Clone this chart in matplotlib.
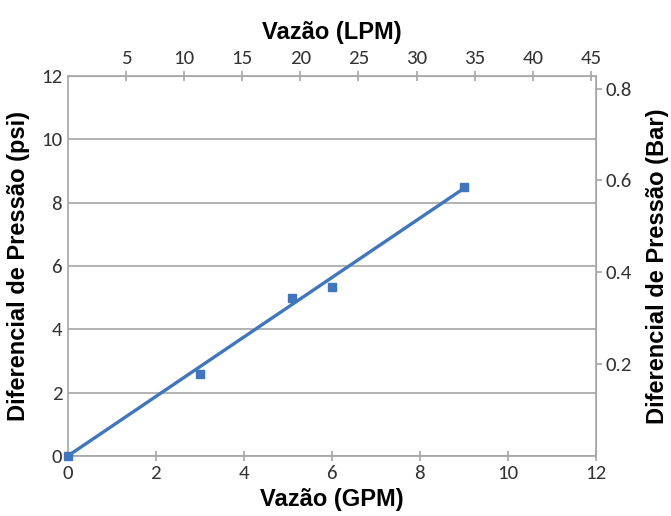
import matplotlib
matplotlib.use("Agg")
import matplotlib.pyplot as plt
import numpy as np

# measured points (GPM, psi)
FLOW_GPM = [0.0, 3.0, 5.1, 6.0, 9.0]
DP_PSI = [0.0, 2.6, 5.0, 5.35, 8.5]

# trend line endpoints
TREND_X = [0.0, 9.0]
TREND_Y = [0.0, 8.45]

GPM_TICKS = [0, 2, 4, 6, 8, 10, 12]
PSI_TICKS = [0, 2, 4, 6, 8, 10, 12]
LPM_TICKS = [5, 10, 15, 20, 25, 30, 35, 40, 45]
BAR_TICKS = [0.2, 0.4, 0.6, 0.8]

GPM_TO_LPM = 3.785
PSI_TO_BAR = 0.0689476

BLUE = "#3f76c0"
GRID = "#a6a6a6"
TICK_COLOR = "#333333"
TITLE_FONT = ["Liberation Sans Narrow", "Liberation Sans", "DejaVu Sans"]
TICK_FONT = ["Carlito", "Open Sans", "DejaVu Sans"]
TICK_SIZE = 15
TITLE_SIZE = 17

fig = plt.figure(figsize=(6.71, 5.16), dpi=100)
ax = fig.add_axes([0.101, 0.1163, 0.787, 0.7364])

ax.plot(TREND_X, TREND_Y, "-", color=BLUE, linewidth=2.4, zorder=3)
ax.plot(FLOW_GPM, DP_PSI, "s", color=BLUE, markersize=6, zorder=4, clip_on=False)

ax.set_xlim(0, 12)
ax.set_ylim(0, 12)
ax.set_xticks(GPM_TICKS)
ax.set_yticks(PSI_TICKS)
ax.grid(True, axis="y", color=GRID, linewidth=1.2)
ax.set_axisbelow(True)
for s in ax.spines.values():
    s.set_color(GRID)
    s.set_linewidth(1.2)

ax.tick_params(axis="x", direction="inout", length=7, color=GRID, width=1.2,
               labelsize=TICK_SIZE, labelcolor=TICK_COLOR, pad=3)
ax.tick_params(axis="y", direction="out", length=0, labelsize=TICK_SIZE,
               labelcolor=TICK_COLOR, pad=4)
for lab in ax.get_xticklabels() + ax.get_yticklabels():
    lab.set_family(TICK_FONT)

ax.set_xlabel("Vazão (GPM)", fontsize=TITLE_SIZE, fontweight="bold", family=TITLE_FONT, labelpad=4)
ax.set_ylabel("Diferencial de Pressão (psi)", fontsize=TITLE_SIZE, fontweight="bold",
              family=TITLE_FONT, labelpad=8)

top = ax.secondary_xaxis("top", functions=(lambda x: x * GPM_TO_LPM, lambda x: x / GPM_TO_LPM))
top.set_xticks(LPM_TICKS)
top.tick_params(direction="inout", length=7, color=GRID, width=1.2,
                labelsize=TICK_SIZE, labelcolor=TICK_COLOR, pad=3)
for lab in top.get_xticklabels():
    lab.set_family(TICK_FONT)
top.spines["top"].set_color(GRID)
top.set_xlabel("Vazão (LPM)", fontsize=TITLE_SIZE, fontweight="bold", family=TITLE_FONT, labelpad=8)

right = ax.secondary_yaxis("right", functions=(lambda y: y * PSI_TO_BAR, lambda y: y / PSI_TO_BAR))
right.set_yticks(BAR_TICKS)
right.set_yticklabels([f"{v:.1f}" for v in BAR_TICKS])
right.tick_params(direction="out", length=4, color=GRID, width=1.2,
                  labelsize=TICK_SIZE, labelcolor=TICK_COLOR, pad=3)
for lab in right.get_yticklabels():
    lab.set_family(TICK_FONT)
right.spines["right"].set_color(GRID)
right.set_ylabel("Diferencial de Pressão (Bar)", fontsize=TITLE_SIZE, fontweight="bold",
                 family=TITLE_FONT, labelpad=10)

fig.savefig("out.png", dpi=100)
